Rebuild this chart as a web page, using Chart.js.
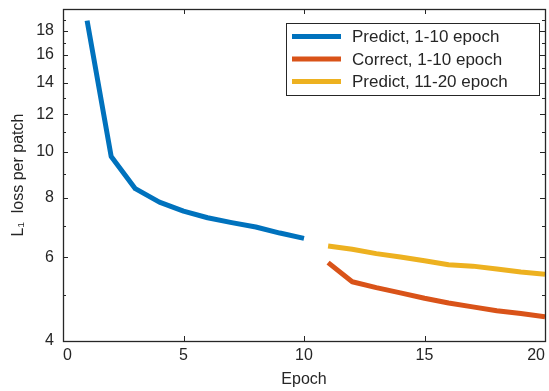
<!DOCTYPE html>
<html>
<head>
<meta charset="utf-8">
<script src="https://cdn.jsdelivr.net/npm/chart.js@4"></script>
<style>
  html, body { margin: 0; padding: 0; background: #fff; }
  #wrap { width: 549px; height: 391px; }
</style>
</head>
<body>
<div id="wrap"><canvas id="c" width="549" height="391"></canvas></div>
<script>
// ---- data ----
const epochsFirst = [1, 2, 3, 4, 5, 6, 7, 8, 9, 10];
const epochsSecond = [11, 12, 13, 14, 15, 16, 17, 18, 19, 20];
const predictFirst = [18.9, 9.78, 8.37, 7.84, 7.51, 7.27, 7.10, 6.95, 6.75, 6.58];
const correctFirst = [5.85, 5.33, 5.18, 5.05, 4.92, 4.81, 4.72, 4.63, 4.57, 4.50];
const predictSecond = [6.34, 6.24, 6.11, 6.01, 5.90, 5.79, 5.75, 5.67, 5.59, 5.53];
const seriesLabels = ['Predict, 1-10 epoch', 'Correct, 1-10 epoch', 'Predict, 11-20 epoch'];
const xTickValues = [0, 5, 10, 15, 20];
const yTickLabels = [4, 6, 8, 10, 12, 14, 16, 18];
const yMinorTicks = [5, 7, 9, 11, 13, 15, 17, 19];

const AXIS = '#262626';
const FONT = '"Liberation Sans", Arial, Helvetica, sans-serif';
const colors = ['#0072BD', '#D95319', '#EDB120'];

function pts(xs, ys) { return xs.map((x, i) => ({ x: x, y: ys[i] })); }

const boxPlugin = {
  id: 'boxPlugin',
  afterDraw(chart) {
    const ctx = chart.ctx;
    const a = chart.chartArea;
    const xs = chart.scales.x, ys = chart.scales.y;
    ctx.save();
    ctx.strokeStyle = AXIS;
    ctx.lineWidth = 1;
    const major = 5, minor = 3;
    ctx.beginPath();
    xTickValues.forEach(v => {
      const px = Math.round(xs.getPixelForValue(v)) + 0.5;
      ctx.moveTo(px, a.bottom); ctx.lineTo(px, a.bottom - major);
      ctx.moveTo(px, a.top); ctx.lineTo(px, a.top + major);
    });
    yTickLabels.forEach(v => {
      const py = Math.round(ys.getPixelForValue(v)) + 0.5;
      ctx.moveTo(a.left, py); ctx.lineTo(a.left + major, py);
      ctx.moveTo(a.right, py); ctx.lineTo(a.right - major, py);
    });
    yMinorTicks.forEach(v => {
      const py = Math.round(ys.getPixelForValue(v)) + 0.5;
      ctx.moveTo(a.left, py); ctx.lineTo(a.left + minor, py);
      ctx.moveTo(a.right, py); ctx.lineTo(a.right - minor, py);
    });
    ctx.stroke();
    ctx.lineWidth = 1.3;
    ctx.strokeRect(Math.round(a.left) + 0.5, Math.round(a.top) + 0.5,
                   Math.round(a.right - a.left), Math.round(a.bottom - a.top));
    // legend
    const lx = 286.5, ly = 23.5, lw = 253, lh = 72;
    ctx.fillStyle = '#fff';
    ctx.fillRect(lx, ly, lw, lh);
    ctx.lineWidth = 1;
    ctx.strokeStyle = AXIS;
    ctx.strokeRect(lx, ly, lw, lh);
    ctx.font = '17px ' + FONT;
    ctx.textBaseline = 'middle';
    ctx.textAlign = 'left';
    const rows = [36.5, 59, 81.5];
    chart.data.datasets.forEach((ds, i) => {
      ctx.strokeStyle = ds.borderColor;
      ctx.lineWidth = 5;
      ctx.beginPath();
      ctx.moveTo(292, rows[i]); ctx.lineTo(341, rows[i]);
      ctx.stroke();
      ctx.fillStyle = AXIS;
      ctx.fillText(ds.label, 352, rows[i] + 1);
    });
    ctx.restore();
  }
};

function noPad(s) { s.paddingTop = 0; s.paddingBottom = 0; s.paddingLeft = 0; s.paddingRight = 0; }

new Chart(document.getElementById('c'), {
  type: 'line',
  data: {
    datasets: [
      { label: seriesLabels[0], data: pts(epochsFirst, predictFirst), borderColor: colors[0] },
      { label: seriesLabels[1], data: pts(epochsSecond, correctFirst), borderColor: colors[1] },
      { label: seriesLabels[2], data: pts(epochsSecond, predictSecond), borderColor: colors[2] }
    ].map(d => Object.assign(d, {
      borderWidth: 5, pointRadius: 0, fill: false, tension: 0,
      borderJoinStyle: 'round', borderCapStyle: 'butt'
    }))
  },
  options: {
    responsive: false,
    animation: false,
    devicePixelRatio: 1,
    layout: { padding: { left: 0, right: 4, top: 9, bottom: 0 } },
    plugins: { legend: { display: false }, tooltip: { enabled: false } },
    scales: {
      x: {
        type: 'linear', min: 0, max: 20,
        afterBuildTicks: s => { s.ticks = xTickValues.map(v => ({ value: v })); },
        afterFit: s => { s.height = 50; noPad(s); },
        grid: { display: false, drawTicks: false },
        border: { display: false },
        ticks: { color: AXIS, font: { family: FONT, size: 16 }, padding: 5, maxRotation: 0, align: 'inner' },
        title: { display: true, text: 'Epoch', color: AXIS, font: { family: FONT, size: 16 }, padding: { top: 0, bottom: 2 } }
      },
      y: {
        type: 'logarithmic', min: 4, max: 20,
        afterBuildTicks: s => { s.ticks = yTickLabels.map(v => ({ value: v })); },
        afterFit: s => { s.width = 63; noPad(s); },
        grid: { display: false, drawTicks: false },
        border: { display: false },
        ticks: { color: AXIS, font: { family: FONT, size: 16 }, padding: 9, callback: v => String(v) },
        title: { display: true, text: 'L\u2081  loss per patch', color: AXIS, font: { family: FONT, size: 16 }, padding: { top: 9, bottom: 0 } }
      }
    }
  },
  plugins: [boxPlugin]
});
</script>
</body>
</html>
